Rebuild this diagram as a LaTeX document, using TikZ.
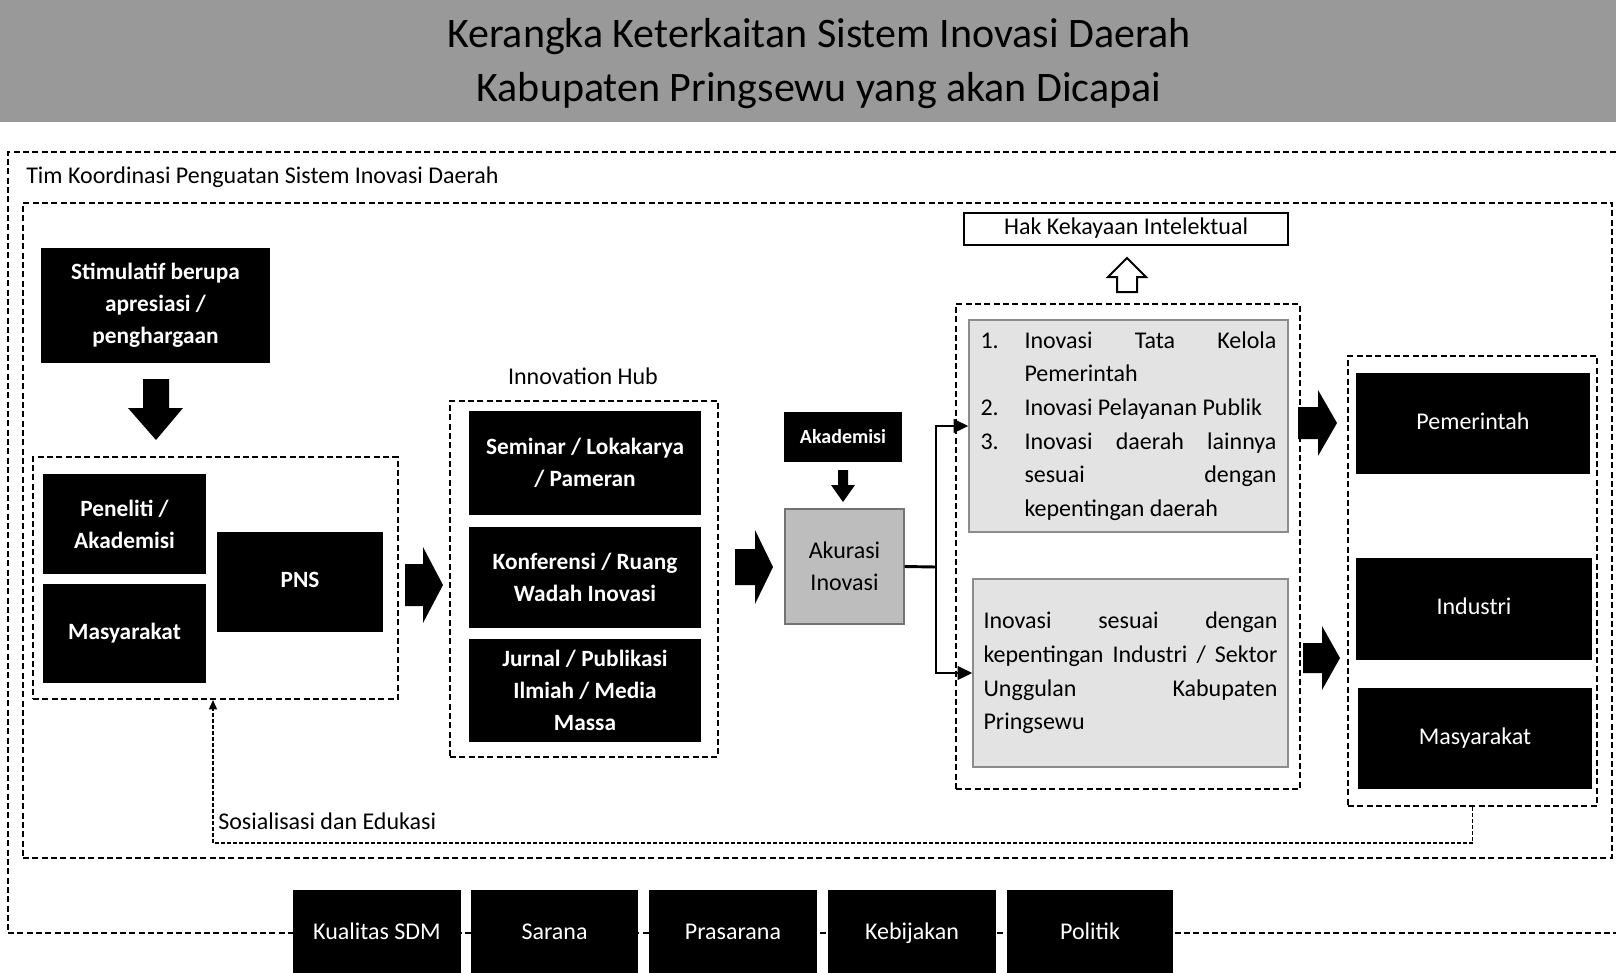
\documentclass[tikz,border=0pt]{standalone}
\usepackage{fontspec}
\setmainfont{Carlito}
\usetikzlibrary{arrows.meta}
\newcommand\fsr{\fontsize{18}{24}\selectfont}
\newcommand\fsb{\bfseries\fontsize{17.5}{24}\selectfont}
% box from corner (x1,y1) to (x2,y2), in pixel units
\newcommand\bx[7][]{%
  \pgfmathsetmacro\bcx{(#3+#5)/2}\pgfmathsetmacro\bcy{(#4+#6)/2}%
  \pgfmathsetmacro\bww{(#5-#3)*0.75}\pgfmathsetmacro\bhh{(#6-#4)*0.75}%
  \node[#1, minimum width=\bww pt, minimum height=\bhh pt] (#2) at (\bcx,\bcy) {#7};}
\begin{document}
\begin{tikzpicture}[x=0.75pt,y=-0.75pt,
  blk/.style={fill=black, text=white, inner sep=0pt, align=center, font=\fsb},
  blkr/.style={fill=black, text=white, inner sep=0pt, align=center, font=\fsr},
  onel/.style={text height=12.5pt, text depth=4pt},
  grp/.style={draw, line width=1.5pt, dash pattern=on 4.5pt off 2.5pt, inner sep=0pt},
  grayb/.style={fill=black!11, draw=black!45, line width=1pt, inner sep=0pt, font=\fsr},
  conn/.style={line width=2.2pt, -{Triangle[length=11pt,width=10pt]}},
  fb/.style={line width=1pt, dash pattern=on 3pt off 1.5pt, -{Triangle[length=7pt,width=6pt]}},
  blockarrow/.style={fill=black}]
\useasboundingbox (0,0) rectangle (1616,972);
\clip (0,0) rectangle (1616,972);
% title band
\fill[black!40] (0,0) rectangle (1616,122);
\node[font=\fontsize{31.5}{40.5}\selectfont, align=center] (title) at (819,64)
  {Kerangka Keterkaitan Sistem Inovasi Daerah\\Kabupaten Pringsewu yang akan Dicapai};
% outer and inner frames
\bx[grp]{tim}{8}{152}{1630}{933}{}
\node[anchor=west, font=\fsr, inner sep=0pt] (timlbl) at (26,177) {Tim Koordinasi Penguatan Sistem Inovasi Daerah};
\bx[grp]{inner}{23}{203}{1612}{858}{}
% left part
\bx[blk]{stim}{41}{248}{270}{363}{Stimulatif berupa\\apresiasi /\\penghargaan}
\fill[blockarrow] (143,379) -- (169,379) -- (169,408) -- (183,408) -- (156,440) -- (128,408) -- (143,408) -- cycle;
\bx[grp]{grpbox}{33}{457}{398}{699}{}
\bx[blk]{pen}{43}{474}{206}{574}{Peneliti /\\Akademisi}
\bx[blk,onel]{mas}{43}{584}{206}{683}{Masyarakat}
\bx[blk,onel]{pns}{217}{532}{383}{632}{PNS}
\fill[blockarrow] (405,564) -- (423,564) -- (423,547) -- (443,585) -- (423,623) -- (423,606) -- (405,606) -- cycle;
% innovation hub
\node[font=\fsr] (hublbl) at (583,376) {Innovation Hub};
\bx[grp]{hub}{450}{401}{718}{757}{}
\bx[blk]{sem}{469}{411}{701}{515}{Seminar / Lokakarya\\/ Pameran}
\bx[blk]{konf}{469}{527}{701}{628}{Konferensi / Ruang\\Wadah Inovasi}
\bx[blk]{jur}{469}{639}{701}{742}{Jurnal / Publikasi\\Ilmiah / Media\\Massa}
\fill[blockarrow] (735,549) -- (755,549) -- (755,530) -- (773,567) -- (755,604) -- (755,585) -- (735,585) -- cycle;
% akurasi
\bx[blk, font=\bfseries\fontsize{15}{18}\selectfont]{akad}{784}{412}{902}{462}{Akademisi}
\fill[blockarrow] (838,470) -- (848,470) -- (848,485) -- (855,485) -- (843,502) -- (831,485) -- (838,485) -- cycle;
\bx[fill=black!26, draw=black!55, line width=1pt, inner sep=0pt, align=center, font=\fsr]{akur}{785}{509}{904}{624}{Akurasi\\Inovasi}
% HKI
\bx[draw, line width=1.5pt, fill=white, inner sep=0pt, font=\fsr, onel]{hki}{964}{213}{1288}{245}{Hak Kekayaan Intelektual}
\draw[line width=1.5pt, fill=white] (1117,292) -- (1117,277) -- (1108,277) -- (1127,258) -- (1146,277) -- (1137,277) -- (1137,292) -- cycle;
% innovations
\bx[grp]{inov}{956}{304}{1300}{789}{}
\bx[grayb]{inov1}{969}{320}{1288}{532}{\parbox{222pt}{\baselineskip=25.2pt
  \makebox[33pt][l]{1.}\makebox[189pt][s]{Inovasi Tata Kelola}\\
  \hspace*{33pt}Pemerintah\\
  \makebox[33pt][l]{2.}Inovasi Pelayanan Publik\\
  \makebox[33pt][l]{3.}\makebox[189pt][s]{Inovasi daerah lainnya}\\
  \hspace*{33pt}\makebox[189pt][s]{sesuai dengan}\\
  \hspace*{33pt}kepentingan daerah}}
\bx[grayb]{inov2}{973}{579}{1288}{767}{\parbox{220.5pt}{\baselineskip=25.2pt
  \makebox[220.5pt][s]{Inovasi sesuai dengan}\\
  \makebox[220.5pt][s]{kepentingan Industri / Sektor}\\
  \makebox[220.5pt][s]{Unggulan Kabupaten}\\
  Pringsewu}}
\coordinate (br) at (936,567);
\draw[line width=2.2pt] (akur.east) -- (br);
\draw[conn] (br) |- (inov1.west);
\draw[conn] (br) |- (inov2.west);
\fill[blockarrow] (1298,407) -- (1318,407) -- (1318,390) -- (1337,423) -- (1318,456) -- (1318,439) -- (1298,439) -- cycle;
\fill[blockarrow] (1303,643) -- (1322,643) -- (1322,626) -- (1340,658) -- (1322,690) -- (1322,673) -- (1303,673) -- cycle;
% targets
\bx[grp]{rbox}{1348}{356}{1597}{806}{}
\bx[blkr,onel]{pem}{1356}{373}{1590}{474}{Pemerintah}
\bx[blkr,onel]{ind}{1356}{558}{1592}{660}{Industri}
\bx[blkr,onel]{mas2}{1358}{688}{1592}{789}{Masyarakat}
% feedback
\coordinate (fbl) at (213,843);
\draw[fb] (rbox.south) -- (rbox.south |- fbl) -- (fbl) -- (grpbox.south -| fbl);
\node[anchor=west, font=\fsr, inner sep=0pt] (sos) at (218,821) {Sosialisasi dan Edukasi};
% factors
\bx[blkr,onel]{f1}{293}{890}{461}{978}{Kualitas SDM}
\bx[blkr,onel]{f2}{471}{890}{638}{978}{Sarana}
\bx[blkr,onel]{f3}{649}{890}{817}{978}{Prasarana}
\bx[blkr,onel]{f4}{828}{890}{996}{978}{Kebijakan}
\bx[blkr,onel]{f5}{1007}{890}{1173}{978}{Politik}
\end{tikzpicture}
\end{document}
